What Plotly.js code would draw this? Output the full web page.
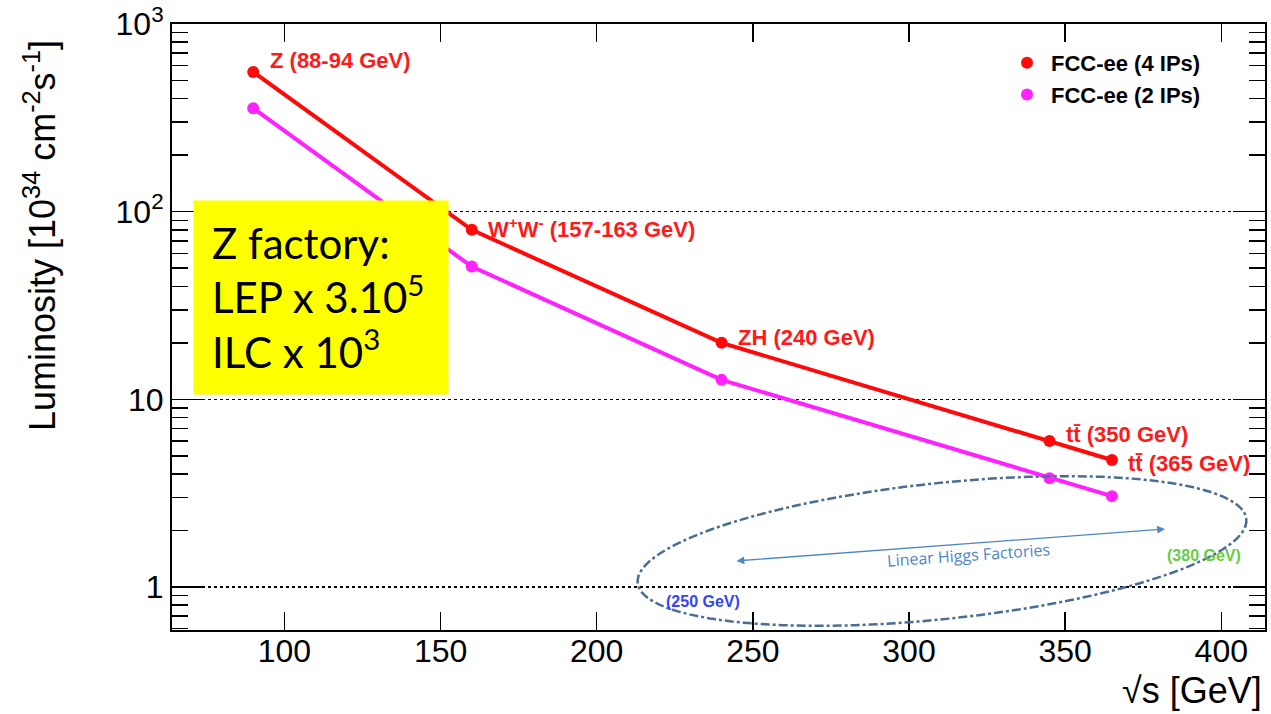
<!DOCTYPE html>
<html>
<head>
<meta charset="utf-8">
<script src="https://cdn.plot.ly/plotly-3.0.1.min.js"></script>
<style>html,body{margin:0;padding:0;background:#fff;}#chart{width:1271px;height:714px;}</style>
</head>
<body>
<div id="chart"></div>
<script>
// ---- data ----
const energy = [90, 160, 240, 345, 365];
const lumi4IP = [555, 80, 20, 6.0, 4.75];
const lumi2IP = [356, 51, 12.7, 3.8, 3.05];
const pointLabels = ["Z (88-94 GeV)", "W<sup>+</sup>W<sup>-</sup> (157-163 GeV)", "ZH (240 GeV)", "tt\u0304 (350 GeV)", "tt\u0304 (365 GeV)"];
const seriesNames = ["FCC-ee (4 IPs)", "FCC-ee (2 IPs)"];
const yTickVals = [1, 10, 100, 1000];
const yTickText = ["1", "10", "10<sup>2</sup>", "10<sup>3</sup>"];
const xTickVals = [100, 150, 200, 250, 300, 350, 400];

// ---- layout geometry (pixels) ----
const W = 1271, H = 714;
const M = {l: 172, r: 6, t: 24, b: 84};
const PW = W - M.l - M.r, PH = H - M.t - M.b;
const px = x => (x - M.l) / PW;
const py = y => 1 - (y - M.t) / PH;

const RED = '#ff0a0a', MAG = '#ff22ff';
const FONT = 'Liberation Sans, Arial, Helvetica, sans-serif';

const traces = [
  {x: energy, y: lumi4IP, mode: 'lines+markers', line: {color: RED, width: 4}, marker: {color: RED, size: 12}, showlegend: false, hoverinfo: 'x+y'},
  {x: energy, y: lumi2IP, mode: 'lines+markers', line: {color: MAG, width: 4}, marker: {color: MAG, size: 12}, showlegend: false, hoverinfo: 'x+y'},
  {x: [null], y: [null], mode: 'markers', marker: {color: RED, size: 12}, name: seriesNames[0]},
  {x: [null], y: [null], mode: 'markers', marker: {color: MAG, size: 12}, name: seriesNames[1]}
];

// point label offsets (pixels)
const lblShift = [[15, 11], [14, 2], [14, 5], [14, 6], [14, -3]];
const annotations = pointLabels.map((t, i) => ({
  x: energy[i], y: Math.log10(lumi4IP[i]), xref: 'x', yref: 'y', text: '<b>' + t + '</b>',
  showarrow: false, xanchor: 'left', yanchor: 'middle', xshift: lblShift[i][0], yshift: lblShift[i][1],
  font: {family: FONT, size: 22, color: '#ff1a1a'}
}));

// y-axis title
annotations.push({xref: 'paper', yref: 'paper', x: px(40), y: py(236), text: 'Luminosity [10<sup>34</sup> cm<sup>-2</sup>s<sup>-1</sup>]',
  textangle: -90, showarrow: false, xanchor: 'center', yanchor: 'middle', font: {family: FONT, size: 36, color: '#000'}});
// x-axis title
annotations.push({xref: 'paper', yref: 'paper', x: px(1264), y: py(690), text: '\u221As [GeV]',
  showarrow: false, xanchor: 'right', yanchor: 'middle', font: {family: FONT, size: 36, color: '#000'}});

// yellow box
annotations.push({xref: 'paper', yref: 'paper', x: px(193), y: py(200), xanchor: 'left', yanchor: 'top',
  text: 'Z factory:<br>LEP x 3.10<sup>5</sup><br>ILC x 10<sup>3</sup>', align: 'left', valign: 'middle',
  width: 218, height: 157, borderpad: 18, bgcolor: '#ffff00', showarrow: false,
  font: {family: 'Lato, Carlito, Noto Sans, sans-serif', size: 42, color: '#000'}});

// linear higgs factories arrow
annotations.push({xref: 'paper', yref: 'paper', x: px(1165), y: py(529), ax: px(735), ay: py(561), axref: 'paper', ayref: 'paper',
  text: '', showarrow: true, arrowhead: 2, arrowside: 'end+start', arrowsize: 1.2, arrowwidth: 1.3, arrowcolor: '#4f86c6'});
annotations.push({xref: 'paper', yref: 'paper', x: px(968), y: py(555), xanchor: 'center', yanchor: 'middle', text: 'Linear Higgs Factories', textangle: -4,
  showarrow: false, font: {family: 'Open Sans, Noto Sans, sans-serif', size: 16, color: '#4f86c6'}});
annotations.push({xref: 'paper', yref: 'paper', x: px(703), y: py(601), xanchor: 'center', yanchor: 'middle', text: '<b>(250 GeV)</b>',
  showarrow: false, font: {family: FONT, size: 16, color: '#3344ff'}});
annotations.push({xref: 'paper', yref: 'paper', x: px(1204), y: py(555), xanchor: 'center', yanchor: 'middle', text: '<b>(380 GeV)</b>',
  showarrow: false, font: {family: FONT, size: 16, color: '#66cc44'}});

// ellipse path (decoration, paper coords)
const ec = [942, 551], ea = 306, eb = 68, eth = -6 * Math.PI / 180;
let path = '';
for (let k = 0; k <= 120; k++) {
  const t = 2 * Math.PI * k / 120;
  const ex = ea * Math.cos(t), ey = eb * Math.sin(t);
  const X = ec[0] + ex * Math.cos(eth) - ey * Math.sin(eth);
  const Y = ec[1] + ex * Math.sin(eth) + ey * Math.cos(eth);
  path += (k === 0 ? 'M ' : ' L ') + px(X).toFixed(5) + ',' + py(Y).toFixed(5);
}
path += ' Z';

const shapes = [
  {type: 'path', xref: 'paper', yref: 'paper', path: path, line: {color: '#4a6d94', width: 2.5, dash: 'dashdot'}}
];

const layout = {
  width: W, height: H,
  margin: M,
  paper_bgcolor: '#fff', plot_bgcolor: '#fff',
  showlegend: true,
  legend: {x: px(1003), y: py(42), xanchor: 'left', yanchor: 'top', bgcolor: 'rgba(0,0,0,0)',
    font: {family: FONT, size: 22, color: '#000', weight: 'bold'}, itemwidth: 38, tracegroupgap: 4},
  xaxis: {
    range: [64, 414], tickvals: xTickVals, ticks: 'inside', ticklen: 18, tickwidth: 1.5, tickcolor: '#000',
    showline: true, linecolor: '#000', linewidth: 2, mirror: 'ticks', showgrid: false, zeroline: false,
    ticklabelstandoff: -8,
    tickfont: {family: FONT, size: 32, color: '#000'}
  },
  yaxis: {
    type: 'log', range: [-0.229, 3], tickvals: yTickVals, ticktext: yTickText,
    ticks: 'inside', ticklen: 32, tickwidth: 1.5, tickcolor: '#000',
    showline: true, linecolor: '#000', linewidth: 2, mirror: 'ticks',
    showgrid: true, gridcolor: '#000', gridwidth: 1.5, griddash: 'dot', zeroline: false,
    minor: {ticks: 'inside', ticklen: 16, tickwidth: 1.5, tickcolor: '#000', dtick: 'D1', showgrid: false},
    tickfont: {family: FONT, size: 32, color: '#000'}
  },
  annotations: annotations,
  shapes: shapes
};

Plotly.newPlot('chart', traces, layout, {displayModeBar: false, staticPlot: true});
</script>
</body>
</html>
